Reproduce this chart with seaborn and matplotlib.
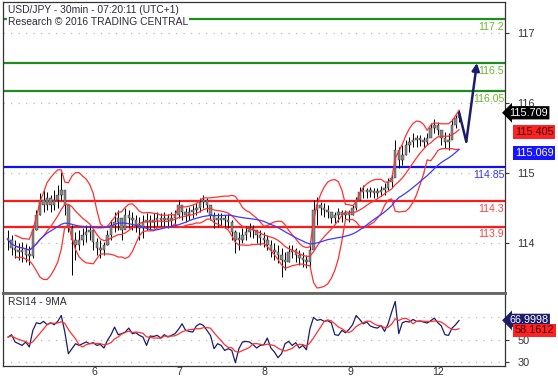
import numpy as np
import pandas as pd
import matplotlib
matplotlib.use("Agg")
import matplotlib.pyplot as plt
import seaborn as sns

sns.set_style("white")
plt.rcParams['font.family'] = ['Liberation Sans', 'DejaVu Sans']

# -------------------------
# DATA (hourly samples, 5 Dec 00:30 -> 12 Dec 07:30)
# -------------------------
high = [113.85, 113.77, 113.69, 113.64, 113.65, 113.62, 113.59, 113.93, 114.16, 114.43,
        114.48, 114.45, 114.40, 114.48, 114.56, 114.77, 114.40, 114.13, 113.93, 113.81,
        113.85, 113.88, 113.93, 113.93, 113.81, 113.72, 113.69, 113.65, 113.85, 114.00,
        114.13, 114.16, 114.04, 114.20, 114.16, 114.13, 114.08, 114.05, 114.08, 114.12,
        114.08, 114.12, 114.13, 114.12, 114.13, 114.10, 114.13, 114.16, 114.32, 114.24,
        114.20, 114.21, 114.24, 114.27, 114.35, 114.40, 114.35, 114.24, 114.13, 114.12,
        114.12, 114.08, 114.10, 114.00, 113.85, 113.81, 113.88, 113.91, 113.96, 113.93,
        113.85, 113.85, 113.81, 113.77, 113.69, 113.64, 113.61, 113.56, 113.50, 113.61,
        113.61, 113.56, 113.53, 113.50, 113.45, 113.61, 114.32, 114.37, 114.29, 114.27,
        114.24, 114.12, 114.13, 114.20, 114.16, 114.16, 114.16, 114.24, 114.37, 114.53,
        114.56, 114.51, 114.53, 114.51, 114.51, 114.54, 114.59, 114.67, 114.75, 115.28,
        115.17, 115.20, 115.28, 115.32, 115.39, 115.36, 115.36, 115.32, 115.39, 115.55,
        115.61, 115.56, 115.44, 115.40, 115.39, 115.61, 115.67, 115.75]
low = [113.53, 113.45, 113.40, 113.37, 113.34, 113.34, 113.29, 113.40, 113.85, 114.08,
       114.13, 114.16, 114.13, 114.16, 114.20, 114.32, 114.08, 113.81, 113.13, 113.37,
       113.53, 113.61, 113.65, 113.69, 113.53, 113.45, 113.40, 113.45, 113.61, 113.69,
       113.81, 113.85, 113.69, 113.88, 113.88, 113.85, 113.81, 113.69, 113.72, 113.85,
       113.85, 113.88, 113.91, 113.89, 113.91, 113.88, 113.91, 113.93, 114.04, 114.00,
       113.97, 114.00, 114.04, 114.08, 114.13, 114.20, 114.13, 114.00, 113.88, 113.89,
       113.91, 113.89, 113.88, 113.69, 113.48, 113.53, 113.64, 113.69, 113.73, 113.72,
       113.64, 113.61, 113.57, 113.53, 113.42, 113.37, 113.32, 113.10, 113.21, 113.34,
       113.40, 113.34, 113.29, 113.26, 113.24, 113.24, 113.69, 113.93, 114.08, 114.05,
       114.04, 113.96, 113.96, 113.97, 113.97, 114.00, 113.97, 114.08, 114.16, 114.32,
       114.35, 114.35, 114.37, 114.35, 114.37, 114.39, 114.40, 114.48, 114.53, 114.80,
       114.83, 114.88, 115.04, 115.09, 115.17, 115.17, 115.18, 115.17, 115.20, 115.32,
       115.39, 115.36, 115.20, 115.15, 115.12, 115.36, 115.47, 115.56]
close = [113.69, 113.56, 113.53, 113.50, 113.53, 113.45, 113.43, 113.85, 114.08, 114.32,
         114.24, 114.35, 114.24, 114.32, 114.40, 114.48, 114.24, 113.88, 113.69, 113.61,
         113.69, 113.77, 113.81, 113.85, 113.65, 113.56, 113.53, 113.61, 113.77, 113.92,
         113.97, 114.04, 113.85, 114.08, 114.04, 114.00, 113.93, 113.88, 113.97, 114.00,
         113.97, 114.00, 114.04, 114.00, 114.04, 114.00, 114.04, 114.08, 114.24, 114.13,
         114.08, 114.13, 114.16, 114.20, 114.29, 114.32, 114.24, 114.08, 114.00, 114.04,
         114.00, 114.00, 113.97, 113.81, 113.69, 113.69, 113.77, 113.81, 113.88, 113.85,
         113.77, 113.72, 113.69, 113.61, 113.53, 113.50, 113.45, 113.37, 113.34, 113.50,
         113.53, 113.45, 113.40, 113.37, 113.34, 113.53, 114.16, 114.24, 114.20, 114.16,
         114.13, 114.04, 114.08, 114.13, 114.08, 114.12, 114.08, 114.20, 114.32, 114.45,
         114.48, 114.45, 114.45, 114.43, 114.45, 114.48, 114.51, 114.61, 114.67, 115.12,
         114.96, 115.04, 115.20, 115.24, 115.28, 115.28, 115.28, 115.24, 115.31, 115.47,
         115.51, 115.44, 115.31, 115.24, 115.28, 115.51, 115.63, 115.709]
rsi = [52.3, 54.4, 48.0, 46.5, 45.0, 48.0, 43.6, 58.2, 64.9, 64.0,
       66.1, 63.2, 64.9, 63.2, 66.1, 71.3, 56.7, 37.7, 42.1, 46.5,
       45.0, 46.5, 48.0, 46.5, 47.4, 45.0, 45.9, 42.7, 49.4, 54.4,
       61.1, 54.4, 55.3, 56.7, 60.2, 55.3, 56.1, 53.8, 52.3, 45.0,
       53.2, 52.9, 53.8, 51.5, 54.4, 52.3, 53.8, 55.3, 59.1, 64.0,
       58.2, 57.3, 56.7, 62.0, 64.0, 62.6, 58.2, 53.8, 42.1, 46.5,
       45.0, 40.6, 42.1, 40.6, 29.8, 42.1, 48.0, 48.5, 48.0, 45.6,
       42.7, 45.0, 45.6, 51.5, 42.7, 39.2, 34.2, 37.7, 46.5, 48.5,
       45.0, 47.4, 42.7, 45.0, 41.2, 59.6, 69.6, 67.0, 67.8, 66.1,
       66.7, 64.9, 54.4, 53.8, 58.2, 56.1, 59.1, 63.2, 71.3, 67.8,
       64.0, 65.5, 62.0, 60.8, 60.2, 62.6, 57.3, 64.0, 74.3, 83.6,
       55.3, 64.9, 66.1, 65.5, 67.8, 66.1, 66.4, 65.5, 64.6, 66.7,
       69.0, 64.9, 62.0, 54.4, 53.8, 60.2, 63.2, 67.0]

days = ["6", "7", "8", "9", "12"]
green_levels = [117.2, 116.5, 116.05]
blue_levels = [114.85]
red_levels = [114.3, 113.9]
price_ticks = [117, 116, 115, 114]
rsi_ticks = [30, 50, 70]
proj_price = [115.709, 115.25, 116.5]
proj_step = [0, 2, 5]          # hours after the last bar
price_boxes = ["115.709", "115.405", "115.069"]
rsi_boxes = ["66.9998", "58.1612"]

# -------------------------
# INDICATORS
# -------------------------
df = pd.DataFrame({"high": high, "low": low, "close": close, "rsi": rsi})
df["x"] = np.arange(len(df))
df["open"] = df["close"].shift(1).fillna(df["close"])
roll = df["close"].rolling(10, min_periods=3)
df["bb_mid"] = roll.mean()
df["bb_up"] = df["bb_mid"] + 2 * roll.std()
df["bb_lo"] = df["bb_mid"] - 2 * roll.std()
df["ma"] = df["close"].rolling(25, min_periods=1).mean()
df["rsi_ma"] = df["rsi"].rolling(5, min_periods=1).mean()

GREEN, GREEN_T = "#1e8c1e", "#6cb52a"
BLUE, BLUE_T = "#1010f0", "#3535f5"
RED, RED_T = "#ff1a1a", "#ff4040"
NAVY = "#1c1c6a"
TXT = "#2b2b3b"

fig = plt.figure(figsize=(5.58, 3.8), dpi=100)
ax = fig.add_axes([0.0054, 0.2289, 0.8996, 0.7658])
ax2 = fig.add_axes([0.0054, 0.0368, 0.8996, 0.1921], sharex=ax)

# -------------------------
# PRICE PANEL
# -------------------------
ax.vlines(df["x"], df["low"], df["high"], color="black", lw=0.7, zorder=3)
body = (df["close"] - df["open"]).abs().clip(lower=0.03)
ax.bar(df["x"], body, bottom=np.minimum(df["open"], df["close"]), width=0.7,
       color="#8c8c8c", edgecolor="#222222", linewidth=0.3, zorder=3)

for col, c in [("bb_up", "#ff3030"), ("bb_lo", "#ff3030"), ("bb_mid", "#ff3030"), ("ma", "#3a3aff")]:
    sns.lineplot(data=df, x="x", y=col, ax=ax, color=c, lw=0.9, zorder=4)

for levels, lc, tc in [(green_levels, GREEN, GREEN_T), (blue_levels, BLUE, BLUE_T), (red_levels, RED, RED_T)]:
    for lv in levels:
        ax.axhline(lv, color=lc, lw=1.6, zorder=2)
        ax.annotate(f"{lv:g}", xy=(1, lv), xycoords=("axes fraction", "data"),
                    xytext=(-0.5, -2), textcoords="offset points", ha="right", va="top",
                    fontsize=7.6, color=tc)

# projection arrow
last = df["x"].iloc[-1]
px = [last + s for s in proj_step]
ax.plot(px[:2], proj_price[:2], color=NAVY, lw=1.8, zorder=6, solid_capstyle="round")
ax.annotate("", xy=(px[2], proj_price[2]), xytext=(px[1], proj_price[1]),
            arrowprops=dict(arrowstyle="-|>", color=NAVY, lw=1.8, mutation_scale=11,
                            shrinkA=0, shrinkB=0), zorder=6)

ax.set_xlim(-1.4, 139.9)
ax.set_ylim(112.843, 117.47)
# the original labels its price ticks on a stretched scale anchored at 117.2
ax.set_yticks([117.2 - (117.2 - t) * 1.113 for t in price_ticks])
ax.set_yticklabels([str(t) for t in price_ticks])
ax.yaxis.tick_right()
ax.tick_params(axis="y", direction="out", length=3, pad=6, labelsize=7.8,
               colors="#333333", width=0.8)
ax.tick_params(axis="x", bottom=False, labelbottom=False)
ax.grid(axis="y", color="#b8b8b8", linestyle=(0, (1, 5)), lw=0.9)
ax.set_xlabel("")
ax.set_ylabel("")
for s in ax.spines.values():
    s.set_color("#333333")
    s.set_linewidth(0.9)
ax.spines["bottom"].set_color("#666666")
ax.spines["bottom"].set_linewidth(2)

box_styles = [("black", "white", "larrow,pad=0.15"),
              ("#ff2222", "#3a0000", "square,pad=0.15"),
              ("#1515ff", "white", "square,pad=0.15")]
for lab, (fc, tc, bs) in zip(price_boxes, box_styles):
    dx = 3 if bs.startswith("larrow") else 7
    ax.annotate(lab, xy=(1, float(lab)), xycoords=("axes fraction", "data"),
                xytext=(dx, 0), textcoords="offset points", ha="left", va="center",
                fontsize=7.8, color=tc, annotation_clip=False, zorder=10,
                bbox=dict(boxstyle=bs, fc=fc, ec="none"))

# -------------------------
# RSI PANEL
# -------------------------
sns.lineplot(data=df, x="x", y="rsi", ax=ax2, color=NAVY, lw=0.9)
sns.lineplot(data=df, x="x", y="rsi_ma", ax=ax2, color="#ff3030", lw=0.9)
ax2.set_ylim(26.9, 91)
ax2.set_yticks(rsi_ticks)
# the 70 label sits under the RSI value box in the original
ax2.set_yticklabels([str(t) if t != 70 else "" for t in rsi_ticks])
ax2.yaxis.tick_right()
ax2.tick_params(axis="y", direction="out", length=3, pad=6, labelsize=7.8,
                colors="#333333", width=0.8)
ax2.grid(axis="y", color="#b8b8b8", linestyle=(0, (1, 5)), lw=0.9)
ax2.set_xlabel("")
ax2.set_ylabel("")
for s in ax2.spines.values():
    s.set_color("#333333")
    s.set_linewidth(0.9)
ax2.spines["top"].set_color("#666666")
ax2.spines["top"].set_linewidth(2)

rsi_styles = [(NAVY, "white", "larrow,pad=0.15"), ("#ff2222", "#3a0000", "square,pad=0.15")]
for lab, (fc, tc, bs) in zip(rsi_boxes, rsi_styles):
    dx = 3 if bs.startswith("larrow") else 7
    ax2.annotate(lab, xy=(1, float(lab)), xycoords=("axes fraction", "data"),
                 xytext=(dx, 0), textcoords="offset points", ha="left", va="center",
                 fontsize=7.8, color=tc, annotation_clip=False, zorder=10,
                 bbox=dict(boxstyle=bs, fc=fc, ec="none"))

# day boundaries (24 hourly samples per day, first sample at 00:30)
bounds = [23.5 + 24 * i for i in range(len(days))]
ax2.set_xticks(bounds)
ax2.set_xticklabels(days)
ax2.tick_params(axis="x", direction="out", length=3, pad=-2.5, labelsize=7.6,
                colors="#333333", width=0.8)
for lbl in ax2.get_xticklabels():
    lbl.set_horizontalalignment("left")

# -------------------------
# TEXTS
# -------------------------
fig.text(8 / 558, 1 - 10 / 380, "USD/JPY - 30min - 07:20:11 (UTC+1)", fontsize=7.4,
         color=TXT, va="center", ha="left")
fig.text(8 / 558, 1 - 22 / 380, "Research \u00a9 2016 TRADING CENTRAL", fontsize=7.4,
         color=TXT, va="center", ha="left",
         bbox=dict(boxstyle="square,pad=0.1", fc="white", ec="none"))
fig.text(8 / 558, 1 - 302 / 380, "RSI14 - 9MA", fontsize=7.4, color=TXT, va="center", ha="left")

fig.savefig("out.png", dpi=100)
